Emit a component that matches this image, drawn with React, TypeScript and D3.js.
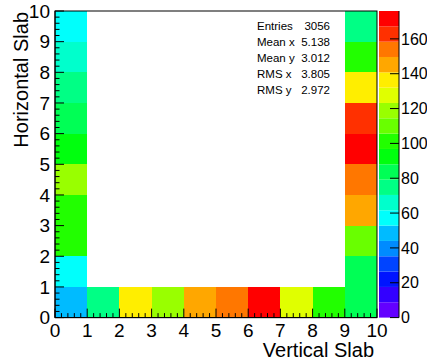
import React from "react";
import * as d3 from "d3";

// ---- data (bin contents of the TH2) ----
const xBins = [0, 1, 2, 3, 4, 5, 6, 7, 8, 9];
const leftColumn = [47, 56, 100, 103, 118, 93, 83, 76, 65, 58]; // x bin 0, y bins 0..9
const bottomRow = [75, 136, 119, 146, 155, 170, 127, 101]; // y bin 0, x bins 1..8
const rightColumn = [85, 83, 110, 145, 154, 172, 162, 137, 100, 74]; // x bin 9, y bins 0..9
const axisTicks = [0, 1, 2, 3, 4, 5, 6, 7, 8, 9, 10];
const zTicks = [0, 20, 40, 60, 80, 100, 120, 140, 160];
const zMax = 176;
const nContours = 20;
const statLabels = ["Entries", "Mean x", "Mean y", "RMS x", "RMS y"];
const statValues = ["3056", "5.138", "3.012", "3.805", "2.972"];

const W = 427;
const H = 361;
const FONT = "'Liberation Sans', Arial, Helvetica, sans-serif";

// ROOT "pretty" palette (51..100): hue 280 -> 0
const rootPalette = d3.range(50).map((i) => d3.hsl(280 - (i + 1) * 5.6, 1, 0.5).formatHex());
const contourColors = d3.range(nContours).map((k) => rootPalette[Math.floor(((k + 0.99) * 50) / nContours)]);

export default function App() {
  const x = d3.scaleLinear().domain([0, 10]).range([55, 377]);
  const y = d3.scaleLinear().domain([0, 10]).range([317.6, 11]);
  const z = d3.scaleLinear().domain([0, zMax]).range([317.6, 11]);
  const color = d3.scaleQuantize<string>().domain([0, zMax]).range(contourColors);

  const cells: { xi: number; yi: number; v: number }[] = [];
  leftColumn.forEach((v, yi) => cells.push({ xi: xBins[0], yi, v }));
  bottomRow.forEach((v, i) => cells.push({ xi: xBins[i + 1], yi: 0, v }));
  rightColumn.forEach((v, yi) => cells.push({ xi: xBins[9], yi, v }));

  const minor = d3.range(0, 10.001, 0.2).filter((t) => Math.abs(t - Math.round(t)) > 1e-6);
  const bandEdges = d3.range(nContours + 1).map((k) => (k * zMax) / nContours);

  const palX0 = 379;
  const palX1 = 399;

  return (
    <svg width={W} height={H} style={{ position: "absolute", left: 0, top: 0, background: "#fff" }} fontFamily={FONT}>
      <rect x={0} y={0} width={W} height={H} fill="#fff" />
      {/* cells */}
      {cells.map((c, i) => (
        <rect
          key={i}
          x={x(c.xi)}
          y={y(c.yi + 1)}
          width={x(c.xi + 1) - x(c.xi)}
          height={y(c.yi) - y(c.yi + 1)}
          fill={color(c.v)}
          shapeRendering="crispEdges"
        />
      ))}
      {/* frame */}
      <rect x={x(0)} y={y(10)} width={x(10) - x(0)} height={y(0) - y(10)} fill="none" stroke="#000" strokeWidth={1} />
      {/* stats */}
      {statLabels.map((s, i) => (
        <g key={s} fontSize={11.5} fill="#000">
          <text x={257} y={29.5 + i * 16.2}>{s}</text>
          <text x={330} y={29.5 + i * 16.2} textAnchor="end">{statValues[i]}</text>
        </g>
      ))}
      {/* x axis */}
      <line x1={x(0)} x2={x(10)} y1={y(0)} y2={y(0)} stroke="#000" />
      {axisTicks.map((t) => (
        <line key={"xt" + t} x1={x(t)} x2={x(t)} y1={y(0)} y2={y(0) - 9} stroke="#000" />
      ))}
      {minor.map((t, i) => (
        <line key={"xm" + i} x1={x(t)} x2={x(t)} y1={y(0)} y2={y(0) - 4.5} stroke="#000" />
      ))}
      {axisTicks.map((t) => (
        <text key={"xl" + t} x={x(t)} y={337} textAnchor="middle" fontSize={19}>
          {t}
        </text>
      ))}
      <text x={374} y={357} textAnchor="end" fontSize={20}>
        Vertical Slab
      </text>
      {/* y axis */}
      <line x1={x(0)} x2={x(0)} y1={y(0)} y2={y(10)} stroke="#000" />
      {axisTicks.map((t) => (
        <line key={"yt" + t} x1={x(0)} x2={x(0) + 9} y1={y(t)} y2={y(t)} stroke="#000" />
      ))}
      {minor.map((t, i) => (
        <line key={"ym" + i} x1={x(0)} x2={x(0) + 4.5} y1={y(t)} y2={y(t)} stroke="#000" />
      ))}
      {axisTicks.map((t) => (
        <text key={"yl" + t} x={50} y={y(t) + 6.8} textAnchor="end" fontSize={19}>
          {t}
        </text>
      ))}
      <text transform="translate(28,12) rotate(-90)" textAnchor="end" fontSize={20}>
        Horizontal Slab
      </text>
      {/* palette */}
      {d3.range(nContours).map((k) => (
        <rect
          key={"p" + k}
          x={palX0}
          y={z(bandEdges[k + 1])}
          width={palX1 - palX0}
          height={z(bandEdges[k]) - z(bandEdges[k + 1])}
          fill={contourColors[k]}
        />
      ))}
      <line x1={palX1} x2={palX1} y1={z(0)} y2={z(zMax)} stroke="#000" />
      {zTicks.map((t) => (
        <g key={"z" + t}>
          <line x1={palX1 - 9} x2={palX1} y1={z(t)} y2={z(t)} stroke="#000" />
          <text x={401} y={z(t) + 5.7} fontSize={16}>
            {t}
          </text>
        </g>
      ))}
    </svg>
  );
}
